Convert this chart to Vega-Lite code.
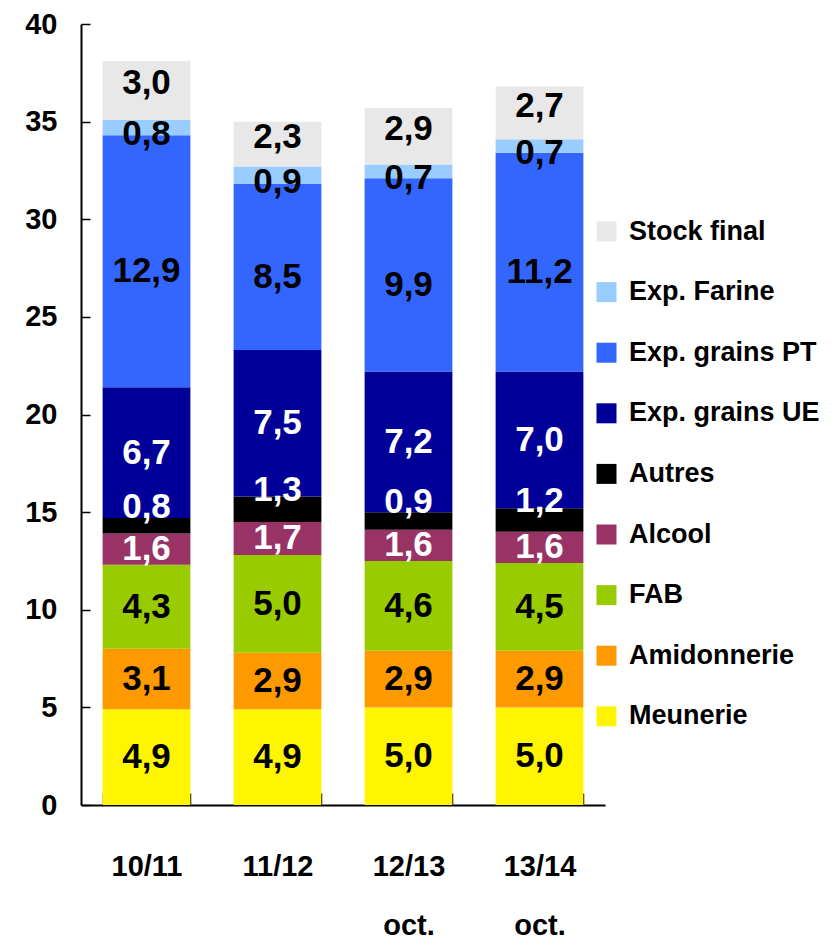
{
  "$schema": "https://vega.github.io/schema/vega-lite/v6.json",
  "autosize": "none",
  "width": 524,
  "height": 781,
  "padding": {"left": 81, "top": 24, "right": 229, "bottom": 136},
  "background": "white",
  "config": {
    "view": {"stroke": null},
    "font": "Liberation Sans, Arial, sans-serif"
  },
  "data": {
    "values": [
      {"c": "10/11", "serie": "Meunerie", "v": 4.9},
      {"c": "10/11", "serie": "Amidonnerie", "v": 3.1},
      {"c": "10/11", "serie": "FAB", "v": 4.3},
      {"c": "10/11", "serie": "Alcool", "v": 1.6},
      {"c": "10/11", "serie": "Autres", "v": 0.8},
      {"c": "10/11", "serie": "Exp. grains UE", "v": 6.7},
      {"c": "10/11", "serie": "Exp. grains PT", "v": 12.9},
      {"c": "10/11", "serie": "Exp. Farine", "v": 0.8},
      {"c": "10/11", "serie": "Stock final", "v": 3.0},
      {"c": "11/12", "serie": "Meunerie", "v": 4.9},
      {"c": "11/12", "serie": "Amidonnerie", "v": 2.9},
      {"c": "11/12", "serie": "FAB", "v": 5.0},
      {"c": "11/12", "serie": "Alcool", "v": 1.7},
      {"c": "11/12", "serie": "Autres", "v": 1.3},
      {"c": "11/12", "serie": "Exp. grains UE", "v": 7.5},
      {"c": "11/12", "serie": "Exp. grains PT", "v": 8.5},
      {"c": "11/12", "serie": "Exp. Farine", "v": 0.9},
      {"c": "11/12", "serie": "Stock final", "v": 2.3},
      {"c": "12/13 oct.", "serie": "Meunerie", "v": 5.0},
      {"c": "12/13 oct.", "serie": "Amidonnerie", "v": 2.9},
      {"c": "12/13 oct.", "serie": "FAB", "v": 4.6},
      {"c": "12/13 oct.", "serie": "Alcool", "v": 1.6},
      {"c": "12/13 oct.", "serie": "Autres", "v": 0.9},
      {"c": "12/13 oct.", "serie": "Exp. grains UE", "v": 7.2},
      {"c": "12/13 oct.", "serie": "Exp. grains PT", "v": 9.9},
      {"c": "12/13 oct.", "serie": "Exp. Farine", "v": 0.7},
      {"c": "12/13 oct.", "serie": "Stock final", "v": 2.9},
      {"c": "13/14 oct.", "serie": "Meunerie", "v": 5.0},
      {"c": "13/14 oct.", "serie": "Amidonnerie", "v": 2.9},
      {"c": "13/14 oct.", "serie": "FAB", "v": 4.5},
      {"c": "13/14 oct.", "serie": "Alcool", "v": 1.6},
      {"c": "13/14 oct.", "serie": "Autres", "v": 1.2},
      {"c": "13/14 oct.", "serie": "Exp. grains UE", "v": 7.0},
      {"c": "13/14 oct.", "serie": "Exp. grains PT", "v": 11.2},
      {"c": "13/14 oct.", "serie": "Exp. Farine", "v": 0.7},
      {"c": "13/14 oct.", "serie": "Stock final", "v": 2.7}
    ]
  },
  "transform": [
    {"calculate": "indexof(['Meunerie','Amidonnerie','FAB','Alcool','Autres','Exp. grains UE','Exp. grains PT','Exp. Farine','Stock final'], datum.serie)", "as": "k"},
    {"stack": "v", "groupby": ["c"], "sort": [{"field": "k", "order": "ascending"}], "as": ["v0", "v1"]},
    {"calculate": "(datum.v0 + datum.v1) / 2", "as": "mid"},
    {"calculate": "replace(format(datum.v, '.1f'), '.', ',')", "as": "lab"}
  ],
  "encoding": {
    "x": {
      "field": "c", "type": "nominal", "sort": null, "title": null,
      "scale": {"paddingInner": 0.33, "paddingOuter": 0.165},
      "axis": {
        "labelAngle": 0, "labelFontSize": 29, "labelFontWeight": "bold", "labelColor": "black",
        "labelExpr": "split(datum.label, ' ')", "labelLineHeight": 59, "labelPadding": 59,
        "labelBaseline": "top",
        "domainColor": "black", "domainWidth": 2, "tickColor": "black", "tickWidth": 1.5,
        "tickBand": "extent", "tickSize": -12
      }
    }
  },
  "layer": [
    {
      "mark": {"type": "bar"},
      "encoding": {
        "y": {
          "field": "v0", "type": "quantitative", "title": null,
          "scale": {"domain": [0, 40]},
          "axis": {
            "values": [0, 5, 10, 15, 20, 25, 30, 35, 40], "grid": false,
            "labelFontSize": 29, "labelFontWeight": "bold", "labelColor": "black", "labelPadding": 33,
            "domainColor": "black", "domainWidth": 2, "tickColor": "black", "tickWidth": 1.5, "tickSize": -9
          }
        },
        "y2": {"field": "v1"},
        "color": {
          "field": "serie", "type": "nominal",
          "scale": {
            "domain": ["Stock final", "Exp. Farine", "Exp. grains PT", "Exp. grains UE", "Autres", "Alcool", "FAB", "Amidonnerie", "Meunerie"],
            "range": ["#E8E8E8", "#99CCFF", "#3366FF", "#000099", "#000000", "#993366", "#99CC00", "#FF9900", "#FFF500"]
          },
          "legend": {
            "title": null, "orient": "none", "legendX": 512, "legendY": 194,
            "symbolType": "square", "symbolSize": 400, "symbolStrokeWidth": 0,
            "labelFontSize": 27, "labelFontWeight": "bold", "labelColor": "black",
            "rowPadding": 32.6, "labelOffset": 9, "padding": 0, "labelLimit": 300
          }
        }
      }
    },
    {
      "transform": [{"filter": "indexof(['Autres','Exp. Farine','Exp. grains PT','Stock final'], datum.serie) < 0"}],
      "mark": {"type": "text", "fontSize": 35, "fontWeight": "bold", "baseline": "middle", "align": "center"},
      "encoding": {
        "y": {"field": "mid", "type": "quantitative"},
        "text": {"field": "lab"},
        "color": {
          "condition": {"test": "indexof(['Alcool','Exp. grains UE'], datum.serie) >= 0", "value": "white"},
          "value": "black"
        }
      }
    },
    {
      "transform": [{"filter": "datum.serie == 'Autres'"}],
      "mark": {"type": "text", "fontSize": 35, "fontWeight": "bold", "baseline": "middle", "align": "center", "dy": -19, "color": "white"},
      "encoding": {
        "y": {"field": "mid", "type": "quantitative"},
        "text": {"field": "lab"}
      }
    },
    {
      "transform": [{"filter": "datum.serie == 'Exp. Farine'"}],
      "mark": {"type": "text", "fontSize": 35, "fontWeight": "bold", "baseline": "middle", "align": "center", "dy": 7, "color": "black"},
      "encoding": {
        "y": {"field": "mid", "type": "quantitative"},
        "text": {"field": "lab"}
      }
    },
    {
      "transform": [{"filter": "datum.serie == 'Exp. grains PT'"}],
      "mark": {"type": "text", "fontSize": 35, "fontWeight": "bold", "baseline": "middle", "align": "center", "dy": 10, "color": "black"},
      "encoding": {
        "y": {"field": "mid", "type": "quantitative"},
        "text": {"field": "lab"}
      }
    },
    {
      "transform": [{"filter": "datum.serie == 'Stock final'"}],
      "mark": {"type": "text", "fontSize": 35, "fontWeight": "bold", "baseline": "middle", "align": "center", "dy": -7, "color": "black"},
      "encoding": {
        "y": {"field": "mid", "type": "quantitative"},
        "text": {"field": "lab"}
      }
    }
  ]
}
